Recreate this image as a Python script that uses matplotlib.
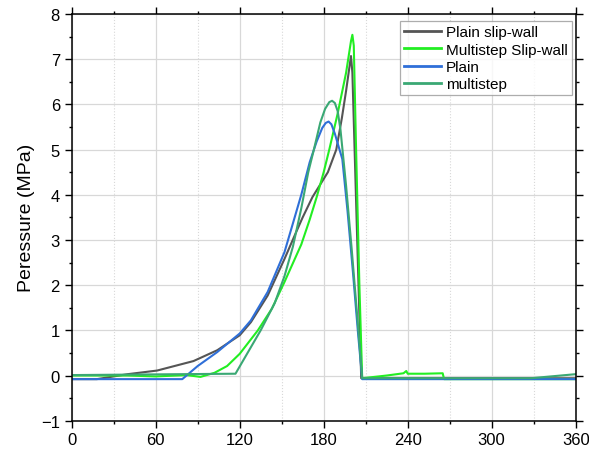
import matplotlib
matplotlib.use("Agg")
import matplotlib.pyplot as plt
from matplotlib.ticker import MultipleLocator

plt.rcParams['font.family'] = ['Liberation Sans', 'DejaVu Sans']

# ---- data (crank angle, pressure MPa) ----
plain_slip_x = [0, 18, 40, 61, 87, 104, 120, 128, 140, 152, 160, 165, 172, 178, 183, 186, 189, 193, 196, 198.5, 199.5, 200.5, 206.8, 240, 360]
plain_slip_y = [-0.08, -0.08, 0.03, 0.11, 0.32, 0.56, 0.89, 1.18, 1.77, 2.58, 3.15, 3.5, 3.95, 4.25, 4.5, 4.75, 5.0, 5.7, 6.3, 6.85, 7.07, 6.7, -0.06, -0.06, -0.06]

multi_slip_x = [0, 20, 40, 60, 82, 92, 102, 111, 120, 133, 143, 152, 164, 170, 175, 180, 184, 190, 196, 199.5, 200.5, 201.5, 203, 205.5, 207.5, 225, 237, 239, 240, 252, 265, 266, 360]
multi_slip_y = [0.0, 0.0, 0.0, -0.02, 0.01, -0.03, 0.06, 0.21, 0.48, 1.0, 1.48, 2.07, 2.9, 3.45, 3.95, 4.5, 5.0, 5.8, 6.7, 7.4, 7.54, 7.3, 5.2, 2.0, -0.06, 0.0, 0.05, 0.1, 0.04, 0.04, 0.05, -0.08, -0.08]

plain_x = [0, 79, 90, 104, 120, 128, 140, 152, 164, 170, 175, 179, 181.5, 183.5, 185.5, 188, 193.3, 197, 201, 204.5, 207.5, 360]
plain_y = [-0.08, -0.08, 0.21, 0.52, 0.93, 1.22, 1.85, 2.73, 4.0, 4.72, 5.18, 5.48, 5.59, 5.62, 5.56, 5.35, 4.79, 3.65, 2.25, 0.95, -0.08, -0.08]

multi_x = [0, 117, 135, 145, 152, 158, 164, 169, 173, 177.6, 181, 184, 186, 188, 190, 192, 196, 200, 204, 207.5, 328, 360]
multi_y = [0.01, 0.04, 1.0, 1.6, 2.2, 2.85, 3.7, 4.5, 5.0, 5.6, 5.9, 6.05, 6.08, 6.03, 5.85, 5.44, 4.2, 2.8, 1.3, -0.06, -0.06, 0.03]

labels = ["Plain slip-wall", "Multistep Slip-wall", "Plain", "multistep"]
colors = ["#555555", "#22ee22", "#2f6fd8", "#3aa874"]

x_ticks = [0, 60, 120, 180, 240, 300, 360]
y_ticks = [-1, 0, 1, 2, 3, 4, 5, 6, 7, 8]

fig = plt.figure(figsize=(5.89, 4.52), dpi=100)
ax = fig.add_axes([0.1217, 0.0670, 0.9774 - 0.1217, 0.9668 - 0.0670])

series = [(plain_slip_x, plain_slip_y), (multi_slip_x, multi_slip_y),
          (plain_x, plain_y), (multi_x, multi_y)]
for (xs, ys), lab, col in zip(series, labels, colors):
    ax.plot(xs, ys, color=col, lw=1.5, label=lab, solid_joinstyle='round')

ax.set_xlim(0, 360)
ax.set_ylim(-1, 8)
ax.set_xticks(x_ticks)
ax.set_yticks(y_ticks)
ax.set_yticklabels(["\u22121" if v == -1 else str(v) for v in y_ticks])
ax.xaxis.set_minor_locator(MultipleLocator(30))
ax.yaxis.set_minor_locator(MultipleLocator(0.5))

ax.grid(True, which='major', color='#d8d8d8', lw=0.9)
ax.grid(True, which='minor', axis='x', color='#d8d8d8', lw=0.8, ls=':')
ax.set_axisbelow(True)

for s in ax.spines.values():
    s.set_linewidth(1.1)
    s.set_color('black')

ax.tick_params(which='both', direction='out', top=True, right=True, width=1.0)
ax.tick_params(which='major', length=5, labelsize=12)
ax.tick_params(which='minor', length=2.5)
ax.tick_params(axis='x', pad=3)

ax.set_ylabel("Peressure (MPa)", fontsize=14, labelpad=4)

leg = ax.legend(loc='upper right', bbox_to_anchor=(0.992, 0.982), fontsize=11,
                frameon=True, fancybox=False, edgecolor='#999999',
                handlelength=2.4, handletextpad=0.35, labelspacing=0.22,
                borderpad=0.25, borderaxespad=0.0)
leg.get_frame().set_linewidth(0.9)
for l in leg.get_lines():
    l.set_linewidth(2.0)

fig.savefig("out.png", dpi=100)
